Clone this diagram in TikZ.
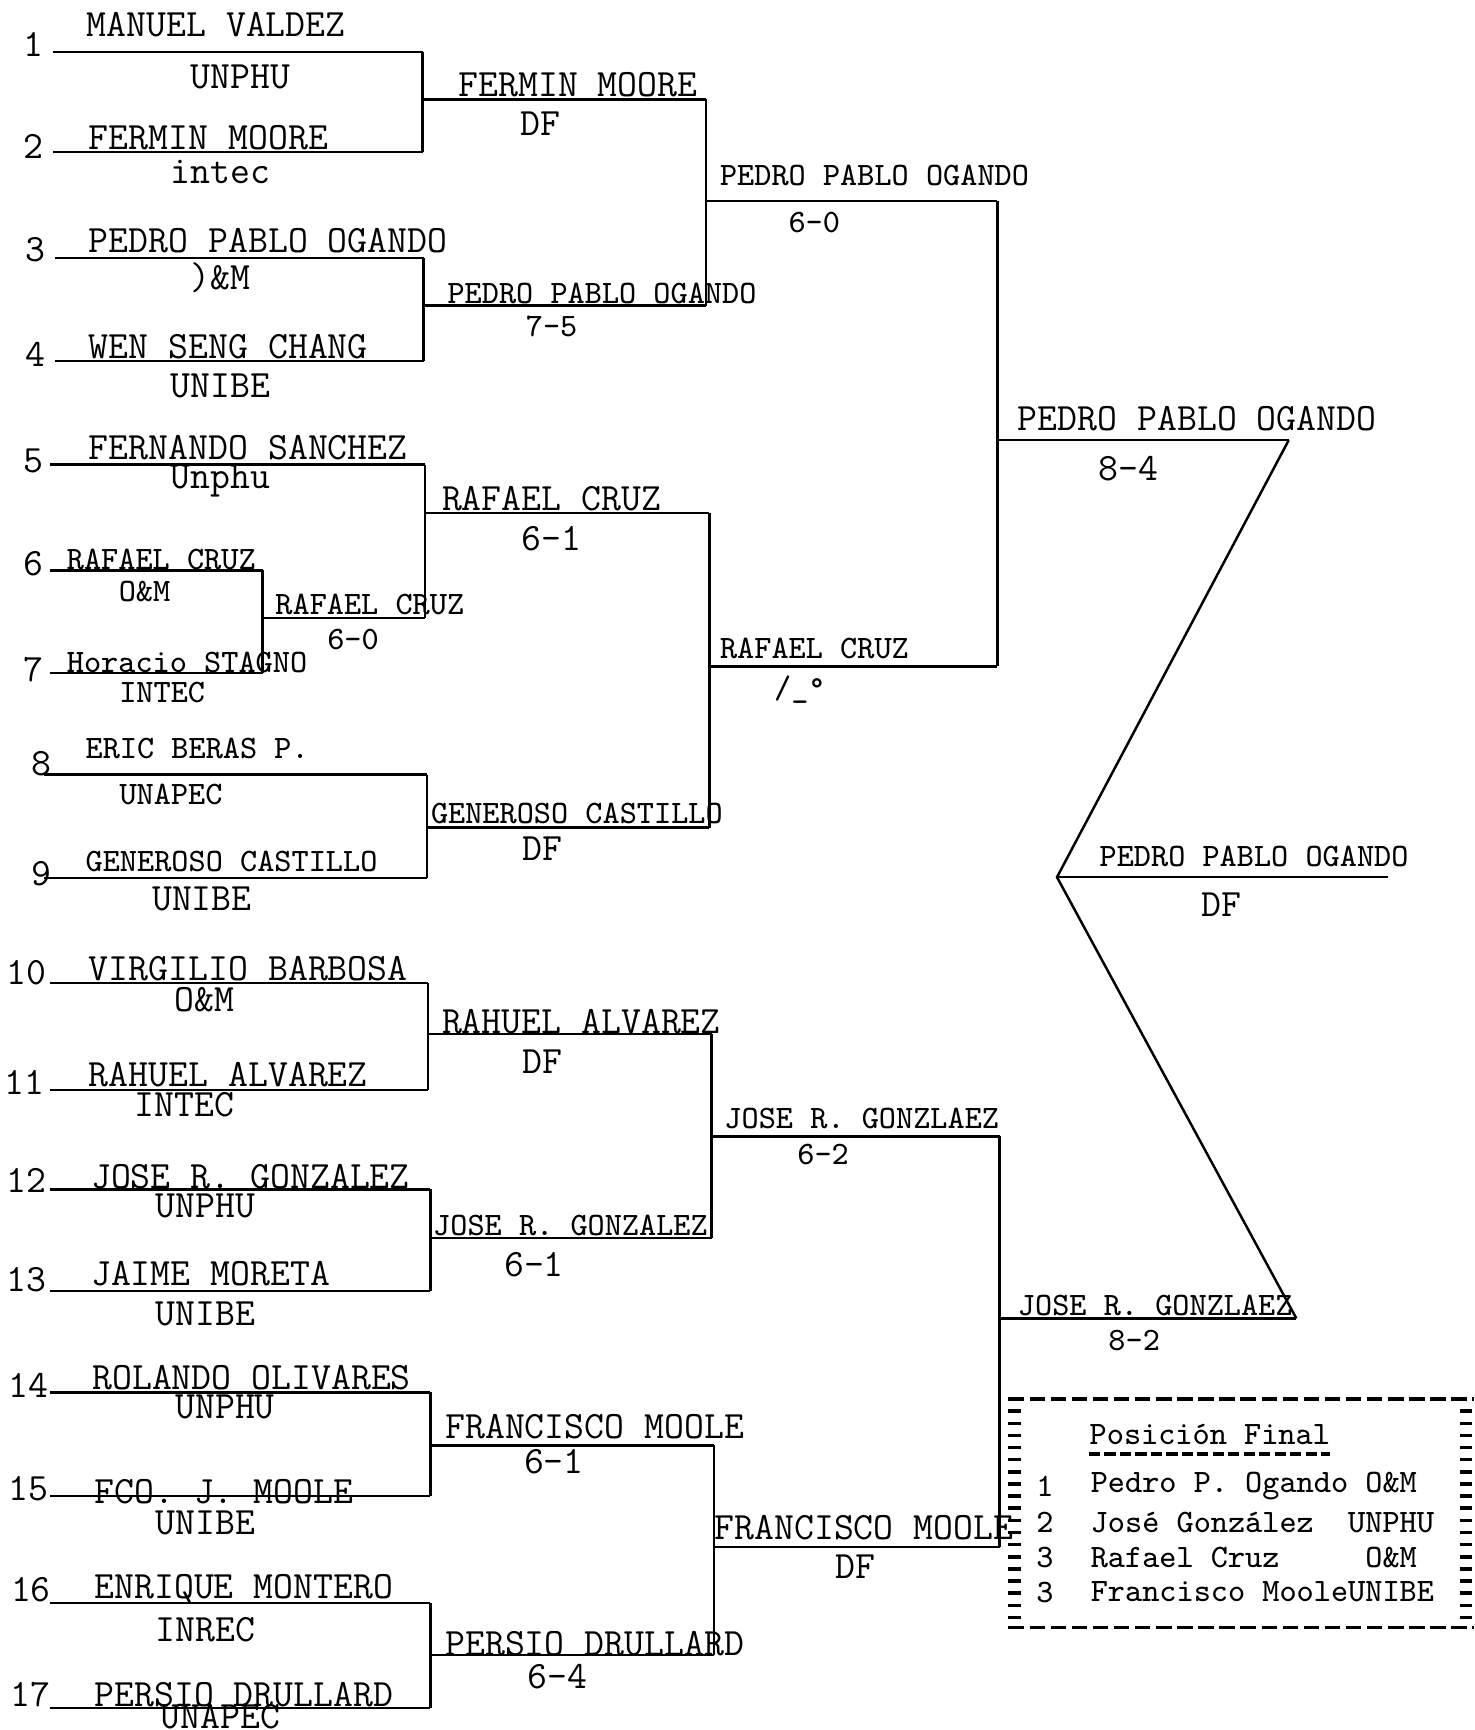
\documentclass[tikz,border=0pt]{standalone}
\usepackage{tikz}

\begin{document}
\begin{tikzpicture}[x=0.011033cm,y=-0.011033cm]
\tikzset{bar/.style={line width=0.7pt}}
\tikzstyle{wide}=[font=\fontsize{11}{13}\selectfont\ttfamily,inner sep=0pt]
\tikzstyle{narrow}=[font=\fontsize{9.3}{11}\selectfont\ttfamily,inner sep=0pt]
\useasboundingbox (0,0) rectangle (1336,1568);

% first round
\node[wide](k1) at (30,40){1};
\node[wide,anchor=west](n1) at (78,22){MANUEL VALDEZ};
\node[wide](u1) at (218,70){UNPHU};
\coordinate (e1l) at (48,47); \coordinate (e1r) at (383,47);
\node[wide](k2) at (30,133){2};
\node[wide,anchor=west](n2) at (80,125){FERMIN MOORE};
\node[wide](u2) at (200,156){intec};
\coordinate (e2l) at (48,138); \coordinate (e2r) at (383,138);
\node[wide](k3) at (32,226){3};
\node[wide,anchor=west](n3) at (80,218){PEDRO PABLO OGANDO};
\node[wide](u3) at (200,252){)\&M};
\coordinate (e3l) at (50,234); \coordinate (e3r) at (384,234);
\node[wide](k4) at (32,321){4};
\node[wide,anchor=west](n4) at (80,314){WEN SENG CHANG};
\node[wide](u4) at (200,350){UNIBE};
\coordinate (e4l) at (50,327); \coordinate (e4r) at (384,327);
\node[wide](k5) at (30,418){5};
\node[wide,anchor=west](n5) at (80,406){FERNANDO SANCHEZ};
\node[wide](u5) at (200,436){Unphu};
\coordinate (e5l) at (45,421); \coordinate (e5r) at (385,421);
\node[wide](k6) at (30,511){6};
\node[narrow,anchor=west](n6) at (60,507){RAFAEL CRUZ};
\node[narrow](u6) at (131,536){O\&M};
\coordinate (e6l) at (45,517); \coordinate (e6r) at (238,517);
\node[wide](k7) at (30,607){7};
\node[narrow,anchor=west](n7) at (60,600){Horacio STAGNO};
\node[narrow](u7) at (147,628){INTEC};
\coordinate (e7l) at (45,610); \coordinate (e7r) at (238,610);
\node[wide](k8) at (38,692){8};
\node[narrow,anchor=west](n8) at (77,678){ERIC BERAS P.};
\node[narrow](u8) at (155,720){UNAPEC};
\coordinate (e8l) at (40,702); \coordinate (e8r) at (387,702);
\node[wide](k9) at (38,792){9};
\node[narrow,anchor=west](n9) at (77,781){GENEROSO CASTILLO};
\node[wide](u9) at (183,815){UNIBE};
\coordinate (e9l) at (40,796); \coordinate (e9r) at (387,796);
\node[wide](k10) at (24,882){10};
\node[wide,anchor=west](n10) at (80,878){VIRGILIO BARBOSA};
\node[wide](u10) at (185,906){O\&M};
\coordinate (e10l) at (45,891); \coordinate (e10r) at (388,891);
\node[wide](k11) at (22,981){11};
\node[wide,anchor=west](n11) at (80,974){RAHUEL ALVAREZ};
\node[wide](u11) at (167,1001){INTEC};
\coordinate (e11l) at (45,988); \coordinate (e11r) at (388,988);
\node[wide](k12) at (24,1070){12};
\node[wide,anchor=west](n12) at (82,1066){JOSE R. GONZALEZ};
\node[wide](u12) at (186,1093){UNPHU};
\coordinate (e12l) at (45,1078); \coordinate (e12r) at (390,1078);
\node[wide](k13) at (24,1160){13};
\node[wide,anchor=west](n13) at (82,1154){JAIME MORETA};
\node[wide](u13) at (186,1191){UNIBE};
\coordinate (e13l) at (45,1170); \coordinate (e13r) at (390,1170);
\node[wide](k14) at (26,1256){14};
\node[wide,anchor=west](n14) at (83,1249){ROLANDO OLIVARES};
\node[wide](u14) at (204,1275){UNPHU};
\coordinate (e14l) at (45,1262); \coordinate (e14r) at (390,1262);
\node[wide](k15) at (26,1349){15};
\node[wide,anchor=west](n15) at (85,1352){FCO. J. MOOLE};
\node[wide](u15) at (186,1380){UNIBE};
\coordinate (e15l) at (45,1356); \coordinate (e15r) at (390,1356);
\node[wide](k16) at (28,1441){16};
\node[wide,anchor=west](n16) at (85,1440){ENRIQUE MONTERO};
\node[wide](u16) at (186,1477){INREC};
\coordinate (e16l) at (45,1453); \coordinate (e16r) at (390,1453);
\node[wide](k17) at (28,1536){17};
\node[wide,anchor=west](n17) at (85,1536){PERSIO DRULLARD};
\node[wide](u17) at (200,1556){UNAPEC};
\coordinate (e17l) at (45,1548); \coordinate (e17r) at (390,1548);

% second round
\node[wide,anchor=west](m1) at (415,77){FERMIN MOORE};
\node[wide](g1) at (490,112){DF};
\coordinate (r1l) at (383,90); \coordinate (r1r) at (640,90);
\node[narrow,anchor=west](m2) at (405,266){PEDRO PABLO OGANDO};
\node[narrow](g2) at (500,296){7-5};
\coordinate (r2l) at (384,277); \coordinate (r2r) at (640,277);
\node[narrow,anchor=west](m3) at (249,548){RAFAEL CRUZ};
\node[narrow](g3) at (320,580){6-0};
\coordinate (r3l) at (238,560); \coordinate (r3r) at (385,560);
\node[wide,anchor=west](m4) at (400,452){RAFAEL CRUZ};
\node[wide](g4) at (500,488){6-1};
\coordinate (r4l) at (385,465); \coordinate (r4r) at (643,465);
\node[narrow,anchor=west](m5) at (390,737){GENEROSO CASTILLO};
\node[wide](g5) at (492,769){DF};
\coordinate (r5l) at (387,750); \coordinate (r5r) at (643,750);
\node[wide,anchor=west](m6) at (400,926){RAHUEL ALVAREZ};
\node[wide](g6) at (492,962){DF};
\coordinate (r6l) at (388,937); \coordinate (r6r) at (645,937);
\node[narrow,anchor=west](m7) at (392,1111){JOSE R. GONZALEZ};
\node[wide](g7) at (484,1146){6-1};
\coordinate (r7l) at (390,1122); \coordinate (r7r) at (645,1122);
\node[wide,anchor=west](m8) at (403,1293){FRANCISCO MOOLE};
\node[wide](g8) at (502,1325){6-1};
\coordinate (r8l) at (390,1310); \coordinate (r8r) at (647,1310);
\node[wide,anchor=west](m9) at (403,1490){PERSIO DRULLARD};
\node[wide](g9) at (505,1520){6-4};
\coordinate (r9l) at (390,1500); \coordinate (r9r) at (647,1500);

% third round
\node[narrow,anchor=west](t1) at (652,159){PEDRO PABLO OGANDO};
\node[narrow](h1) at (738,202){6-0};
\coordinate (q1l) at (640,182); \coordinate (q1r) at (904,182);
\node[narrow,anchor=west](t2) at (652,588){RAFAEL CRUZ};
\node[narrow](h2) at (725,625){/\_°};
\coordinate (q2l) at (643,604); \coordinate (q2r) at (904,604);
\node[narrow,anchor=west](t3) at (656,1014){JOSE R. GONZLAEZ};
\node[narrow](h3) at (746,1046){6-2};
\coordinate (q3l) at (645,1030); \coordinate (q3r) at (906,1030);
\node[wide,anchor=west](t4) at (647,1385){FRANCISCO MOOLE};
\node[wide](h4) at (775,1420){DF};
\coordinate (q4l) at (647,1402); \coordinate (q4r) at (906,1402);

% semifinals and final
\node[wide,anchor=west](s1) at (922,379){PEDRO PABLO OGANDO};
\node[wide](c1) at (1023,425){8-4};
\coordinate (s1l) at (904,399); \coordinate (s1r) at (1168,399);
\node[narrow,anchor=west](s2) at (922,1183){JOSE R. GONZLAEZ};
\node[narrow](c2) at (1028,1215){8-2};
\coordinate (s2l) at (906,1195); \coordinate (s2r) at (1175,1195);
\node[narrow,anchor=west](champ) at (996,776){PEDRO PABLO OGANDO};
\node[wide](cf) at (1107,820){DF};
\coordinate (f) at (958,795); \coordinate (fr) at (1258,795);

\draw[bar] (e1l) -- (e1r); \draw[bar] (e2l) -- (e2r);
\draw[bar] (e3l) -- (e3r); \draw[bar] (e4l) -- (e4r);
\draw[bar] (e5l) -- (e5r); \draw[bar] (e6l) -- (e6r);
\draw[bar] (e7l) -- (e7r); \draw[bar] (e8l) -- (e8r);
\draw[bar] (e9l) -- (e9r); \draw[bar] (e10l) -- (e10r);
\draw[bar] (e11l) -- (e11r); \draw[bar] (e12l) -- (e12r);
\draw[bar] (e13l) -- (e13r); \draw[bar] (e14l) -- (e14r);
\draw[bar] (e15l) -- (e15r); \draw[bar] (e16l) -- (e16r);
\draw[bar] (e17l) -- (e17r);
\draw[bar] (e1r) -- (e2r); \draw[bar] (e3r) -- (e4r);
\draw[bar] (e6r) -- (e7r); \draw[bar] (e5r) -- (r3r);
\draw[bar] (e8r) -- (e9r); \draw[bar] (e10r) -- (e11r);
\draw[bar] (e12r) -- (e13r); \draw[bar] (e14r) -- (e15r);
\draw[bar] (e16r) -- (e17r);
\draw[bar] (r1l) -- (r1r); \draw[bar] (r2l) -- (r2r);
\draw[bar] (r3l) -- (r3r); \draw[bar] (r4l) -- (r4r);
\draw[bar] (r5l) -- (r5r); \draw[bar] (r6l) -- (r6r);
\draw[bar] (r7l) -- (r7r); \draw[bar] (r8l) -- (r8r);
\draw[bar] (r9l) -- (r9r);
\draw[bar] (r1r) -- (r2r); \draw[bar] (r4r) -- (r5r);
\draw[bar] (r6r) -- (r7r); \draw[bar] (r8r) -- (r9r);
\draw[bar] (q1l) -- (q1r); \draw[bar] (q2l) -- (q2r);
\draw[bar] (q3l) -- (q3r); \draw[bar] (q4l) -- (q4r);
\draw[bar] (q1r) -- (q2r); \draw[bar] (q3r) -- (q4r);
\draw[bar] (s1l) -- (s1r); \draw[bar] (s2l) -- (s2r);
\draw[bar] (s1r) -- (f) -- (s2r);
\draw[bar] (f) -- (fr);

% final standings
\draw[line width=1pt,dash pattern=on 4.4pt off 1.6pt] (914,1268) -- (1336,1268);
\draw[line width=1pt,dash pattern=on 4.4pt off 1.6pt] (914,1475) -- (1336,1475);
\foreach \t in {1279,1290,...,1466}{
  \draw[line width=1pt] (914,\t) -- (925,\t);
  \draw[line width=1pt] (1323,\t) -- (1334,\t);
}
\node[narrow,anchor=west](lt) at (987,1300){Posición Final};
\coordinate (ul) at (987,1318); \coordinate (ur) at (1205,1318);
\draw[line width=1pt,dash pattern=on 3.2pt off 1.2pt] (ul) -- (ur);
\node[narrow](p1) at (947,1347){1};
\node[narrow,anchor=west](l1) at (988,1347){Pedro P. Ogando O\&M};
\node[narrow](p2) at (947,1380){2};
\node[narrow,anchor=west](l2) at (988,1380){José González\ \ UNPHU};
\node[narrow](p3) at (947,1412){3};
\node[narrow,anchor=west](l3) at (988,1412){Rafael Cruz\ \ \ \ \ O\&M};
\node[narrow](p4) at (947,1443){3};
\node[narrow,anchor=west](l4) at (988,1443){Francisco MooleUNIBE};
\end{tikzpicture}
\end{document}
